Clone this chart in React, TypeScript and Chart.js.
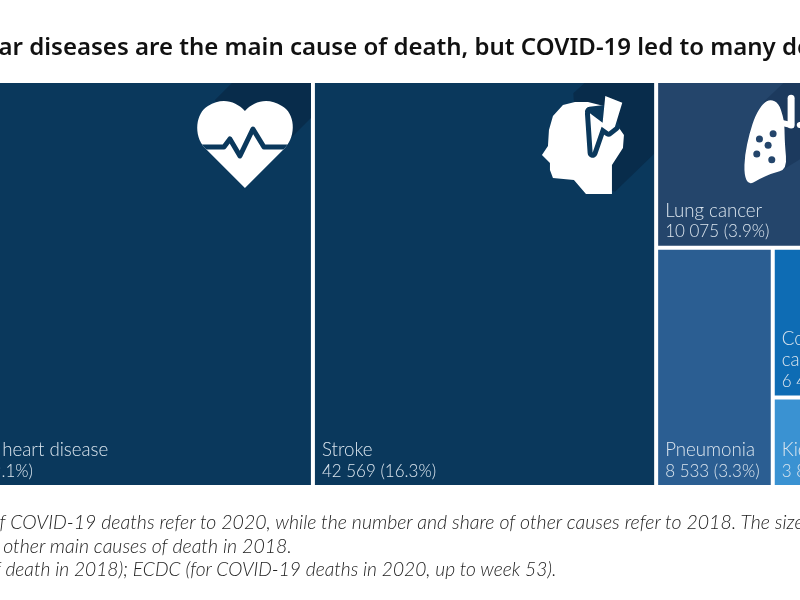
import React, { useEffect, useRef } from "react";
import { Chart, DatasetController, BarElement, LinearScale } from "chart.js";

// ---- data ----
const causeLines = [
  ["Ischaemic heart disease"],
  ["Stroke"],
  ["Lung cancer"],
  ["Pneumonia"],
  ["Colorectal", "cancer"],
  ["Kidney disease"],
];
const deaths = [50000, 42569, 10075, 8533, 6499, 3800];
const shares = [19.1, 16.3, 3.9, 3.3, 2.5, 1.5];
const cellColors = ["#0a385c", "#0a385c", "#24456b", "#2b5e92", "#0e6cb4", "#3a92d2"];
const shadowColors = ["#082c4b", "#082c4b", "#1c3a5e"];
const titleText = "Cardiovascular diseases are the main cause of death, but COVID-19 led to many deaths";
const noteLines = [
  "Note: The number and share of COVID-19 deaths refer to 2020, while the number and share of other causes refer to 2018. The size of the rectangles",
  "reflects the number of deaths from other main causes of death in 2018.",
  "Source: Eurostat (for causes of death in 2018); ECDC (for COVID-19 deaths in 2020, up to week 53).",
];

// ---- treemap layout in data units: x in deaths, y as a share of full height ----
const TOP_ROW_SHARE = 0.41;
function layout() {
  const [chd, stroke, lung, pneu, colo, kid] = deaths;
  const x2 = chd + stroke;
  const low = 1 - TOP_ROW_SHARE;
  const pw = pneu / low;
  const cw = (colo + kid) / low;
  const coloH = colo / cw;
  return [
    { x: 0, x2: chd, y: 0, y2: 1 },
    { x: chd, x2, y: 0, y2: 1 },
    { x: x2, x2: x2 + lung / TOP_ROW_SHARE, y: 0, y2: TOP_ROW_SHARE },
    { x: x2, x2: x2 + pw, y: TOP_ROW_SHARE, y2: 1 },
    { x: x2 + pw, x2: x2 + pw + cw, y: TOP_ROW_SHARE, y2: TOP_ROW_SHARE + coloH },
    { x: x2 + pw, x2: x2 + pw + cw, y: TOP_ROW_SHARE + coloH, y2: 1 },
  ];
}

const GAP = 2;
class TreemapController extends DatasetController {
  static id = "treemap";
  static defaults = { dataElementType: "bar", datasetElementType: false, animations: {} };
  static overrides = { scales: { x: { type: "linear" }, y: { type: "linear" } } };
  update(mode: any) {
    const meta: any = this._cachedMeta;
    this.updateElements(meta.data, 0, meta.data.length, mode);
  }
  updateElements(rects: any[], start: number, count: number, mode: any) {
    const meta: any = this._cachedMeta;
    const { xScale, yScale } = meta;
    const data: any[] = (this as any).getDataset().data;
    for (let i = start; i < start + count; i++) {
      const d = data[i];
      const l = xScale.getPixelForValue(d.x) + GAP;
      const r = xScale.getPixelForValue(d.x2) - GAP;
      const t = yScale.getPixelForValue(d.y) + (d.y > 0 ? GAP : 0);
      const b = yScale.getPixelForValue(d.y2) - (d.y2 < 1 ? GAP : 0);
      (this as any).updateElement(
        rects[i],
        i,
        {
          x: (l + r) / 2,
          y: t,
          base: b,
          width: r - l,
          height: b - t,
          horizontal: false,
          borderSkipped: {},
          enableBorderRadius: false,
          inflateAmount: 0,
          options: (this as any).resolveDataElementOptions(i, mode),
        },
        mode
      );
    }
  }
}
Chart.register(TreemapController as any, BarElement, LinearScale);

// ---- icons: coordinates are relative to a reference cell corner ----
function poly(ctx: CanvasRenderingContext2D, pts: number[][]) {
  ctx.beginPath();
  pts.forEach((p, i) => (i ? ctx.lineTo(p[0], p[1]) : ctx.moveTo(p[0], p[1])));
  ctx.closePath();
}
function smooth(ctx: CanvasRenderingContext2D, pts: number[][]) {
  const n = pts.length;
  const mid = (a: number[], b: number[]) => [(a[0] + b[0]) / 2, (a[1] + b[1]) / 2];
  const s = mid(pts[n - 1], pts[0]);
  ctx.beginPath();
  ctx.moveTo(s[0], s[1]);
  pts.forEach((p, i) => {
    const m = mid(p, pts[(i + 1) % n]);
    ctx.quadraticCurveTo(p[0], p[1], m[0], m[1]);
  });
  ctx.closePath();
}
function heart(ctx: CanvasRenderingContext2D, bg: string, shadow: string) {
  ctx.fillStyle = shadow;
  poly(ctx, [[215, 100], [232, 83], [312, 83], [312, 117], [293, 136], [245, 170]]);
  ctx.fill();
  ctx.save();
  ctx.fillStyle = "#ffffff";
  ctx.beginPath();
  ctx.moveTo(245, 188);
  ctx.lineTo(205, 148);
  ctx.bezierCurveTo(193, 135, 196, 113, 208, 106);
  ctx.bezierCurveTo(222, 97, 236, 101, 245, 111);
  ctx.bezierCurveTo(254, 101, 268, 97, 282, 106);
  ctx.bezierCurveTo(295, 113, 297, 135, 285, 148);
  ctx.closePath();
  ctx.fill();
  ctx.clip();
  ctx.strokeStyle = bg;
  ctx.lineWidth = 5;
  ctx.lineJoin = "round";
  ctx.lineCap = "round";
  ctx.beginPath();
  [[190, 147], [224, 147], [230, 139], [240, 156], [253, 129], [264, 147], [300, 147]].forEach((p, i) =>
    i ? ctx.lineTo(p[0], p[1]) : ctx.moveTo(p[0], p[1])
  );
  ctx.stroke();
  ctx.restore();
}
function head(ctx: CanvasRenderingContext2D, bg: string, shadow: string) {
  const z = (p: number[]) => [530 + p[0] / 3, 80 + p[1] / 3];
  ctx.fillStyle = shadow;
  poly(ctx, [[130, 40], [165, 8], [372, 8], [372, 222], [255, 335], [150, 300]].map(z));
  ctx.fill();
  ctx.fillStyle = "#ffffff";
  ctx.lineJoin = "round";
  poly(ctx, [
    [612, 194], [586, 194], [574, 180], [553, 178], [550, 170], [550, 163], [542, 155], [548, 146], [549, 130],
    [553, 116], [563, 105], [575, 102], [588, 102], [604, 106], [617, 125], [624, 135], [623, 148], [612, 165],
  ]);
  ctx.fill();
  const bolt = [
    [226, 48], [277, 68], [255, 140], [236, 155], [215, 140], [188, 218], [180, 100], [218, 128],
  ].map(z);
  ctx.strokeStyle = bg;
  ctx.fillStyle = bg;
  ctx.lineWidth = 10;
  poly(ctx, bolt.slice(2).concat([z([180, 95]), z([225, 90])]));
  ctx.fill();
  ctx.stroke();
  ctx.fillStyle = "#ffffff";
  poly(ctx, bolt);
  ctx.fill();
}
function lungs(ctx: CanvasRenderingContext2D, bg: string, shadow: string) {
  const z = (p: number[]) => [730 + p[0] / 3, 80 + p[1] / 3];
  ctx.fillStyle = shadow;
  poly(ctx, [[105, 65], [165, 8], [400, 8], [400, 120], [170, 265], [120, 200]].map(z));
  ctx.fill();
  ctx.fillStyle = "#ffffff";
  ctx.lineJoin = "round";
  for (const side of [1, -1]) {
    const m = (p: number[]) => z([side > 0 ? p[0] : 400 - p[0], p[1]]);
    smooth(
      ctx,
      [
        [125, 58], [150, 70], [163, 110], [167, 135], [168, 190], [175, 268], [130, 280], [90, 298], [60, 315],
        [46, 285], [48, 225], [62, 160], [80, 105], [103, 70],
      ].map(m)
    );
    ctx.fill();
    ctx.strokeStyle = "#ffffff";
    ctx.lineWidth = 6;
    ctx.lineCap = "round";
    ctx.beginPath();
    const a = m([187, 135]);
    const b = m([155, 128]);
    ctx.moveTo(a[0], a[1]);
    ctx.lineTo(b[0], b[1]);
    ctx.stroke();
  }
  ctx.beginPath();
  const t0 = z([187, 55]);
  const t1 = z([187, 135]);
  ctx.lineWidth = 7;
  ctx.moveTo(t0[0], t0[1]);
  ctx.lineTo(t1[0], t1[1]);
  ctx.stroke();
  ctx.fillStyle = bg;
  for (const p of [[92, 177], [133, 161], [118, 196], [84, 222], [129, 239]]) {
    const c = z(p);
    ctx.beginPath();
    ctx.arc(c[0], c[1], 3.5, 0, Math.PI * 2);
    ctx.fill();
  }
}
const icons = [
  { cell: 0, draw: heart, refRight: 311 },
  { cell: 1, draw: head, refRight: 654.2 },
  { cell: 2, draw: lungs, refRight: 853.5 },
];

const NAME_FONT = "300 18.7px Lato, sans-serif";
const VALUE_FONT = "300 17px Lato, sans-serif";
const fmt = (v: number) => String(v).replace(/\B(?=(\d{3})+$)/g, " ");

const cellDecor = {
  id: "cellDecor",
  afterDatasetsDraw(chart: any) {
    const ctx: CanvasRenderingContext2D = chart.ctx;
    const rects = chart.getDatasetMeta(0).data;
    const bounds = rects.map((r: any) => r.getProps(["x", "y", "base", "width"]));
    for (const ic of icons) {
      const b = bounds[ic.cell];
      ctx.save();
      ctx.beginPath();
      ctx.rect(b.x - b.width / 2, b.y, b.width, b.base - b.y);
      ctx.clip();
      ctx.translate(b.x + b.width / 2 - ic.refRight, 0);
      ic.draw(ctx, cellColors[ic.cell], shadowColors[ic.cell]);
      ctx.restore();
    }
    causeLines.forEach((lines, i) => {
      const b = bounds[i];
      const left = b.x - b.width / 2;
      ctx.save();
      ctx.beginPath();
      ctx.rect(left, b.y, b.width, b.base - b.y);
      ctx.clip();
      ctx.fillStyle = "#dbe5ee";
      ctx.textAlign = "left";
      const all = [...lines, `${fmt(deaths[i])} (${shares[i]}%)`];
      all.forEach((t, k) => {
        ctx.font = k === all.length - 1 ? VALUE_FONT : NAME_FONT;
        ctx.fillText(t, left + 7, b.base - 8.5 - (all.length - 1 - k) * 20.8);
      });
      ctx.restore();
    });
  },
};

const DEATHS_ACROSS_WINDOW = 99220;
const WINDOW_START = 11190;

export default function App() {
  const ref = useRef<HTMLCanvasElement>(null);
  useEffect(() => {
    const chart = new Chart(ref.current as any, {
      type: "treemap" as any,
      data: {
        datasets: [
          {
            label: "Deaths",
            data: layout() as any,
            parsing: false,
            backgroundColor: cellColors,
            borderWidth: 0,
          } as any,
        ],
      },
      options: {
        animation: false,
        responsive: false,
        events: [],
        layout: { padding: { top: 83, bottom: 115, left: 0, right: 0 } },
        plugins: { legend: { display: false }, tooltip: { enabled: false } } as any,
        scales: {
          x: { type: "linear", display: false, min: WINDOW_START, max: WINDOW_START + DEATHS_ACROSS_WINDOW },
          y: { type: "linear", display: false, min: 0, max: 1, reverse: true },
        },
      },
      plugins: [cellDecor],
    } as any);
    return () => chart.destroy();
  }, []);
  const note: React.CSSProperties = {
    position: "absolute",
    whiteSpace: "nowrap",
    fontFamily: "Lato, sans-serif",
    fontStyle: "italic",
    fontWeight: 300,
    fontSize: 19.5,
    lineHeight: "23px",
    color: "#222",
  };
  return (
    <div style={{ position: "fixed", left: 0, top: 0, width: 800, height: 600, overflow: "hidden", background: "#fff" }}>
      <canvas ref={ref} width={800} height={600} style={{ position: "absolute", left: 0, top: 0 }} />
      <div
        style={{
          position: "absolute",
          left: -150,
          top: 28,
          whiteSpace: "nowrap",
          fontFamily: "'Noto Sans', sans-serif",
          fontWeight: 600,
          fontSize: 24,
          lineHeight: "36px",
          color: "#111",
        }}
      >
        {titleText}
      </div>
      <div style={{ ...note, left: -240, top: 510 }}>{noteLines[0]}</div>
      <div style={{ ...note, left: -276, top: 534 }}>{noteLines[1]}</div>
      <div style={{ ...note, left: -235, top: 557, fontSize: 19.2 }}>{noteLines[2]}</div>
    </div>
  );
}
